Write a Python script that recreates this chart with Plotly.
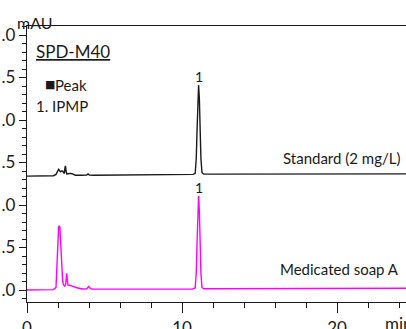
import plotly.graph_objects as go

# ---- data ----
std_time = [0.0, 1.0, 1.70, 1.87, 1.95, 2.04, 2.12, 2.17, 2.24, 2.30, 2.36, 2.41, 2.45, 2.48,
            2.52, 2.57, 2.65, 2.73, 2.82, 2.90, 3.00, 3.12, 3.50, 3.85, 3.94, 4.03, 4.30,
            6.0, 8.0, 10.0, 10.70, 10.85, 10.92, 10.97, 11.02, 11.07, 11.12, 11.17, 11.22,
            11.29, 11.40, 12.0, 14.0, 16.0, 18.0, 20.0, 22.0, 24.5]
std_abs = [1.340, 1.342, 1.345, 1.36, 1.40, 1.42, 1.40, 1.39, 1.40, 1.40, 1.38, 1.37, 1.44, 1.46,
           1.40, 1.365, 1.368, 1.372, 1.372, 1.368, 1.355, 1.350, 1.350, 1.352, 1.365, 1.352, 1.350,
           1.352, 1.355, 1.358, 1.360, 1.37, 1.55, 1.88, 2.25, 2.41, 2.25, 1.88, 1.55,
           1.38, 1.365, 1.363, 1.363, 1.364, 1.365, 1.365, 1.366, 1.366]

soap_time = [0.0, 1.0, 1.70, 1.87, 1.94, 2.00, 2.04, 2.08, 2.12, 2.17, 2.23, 2.30, 2.36, 2.43,
             2.50, 2.56, 2.60, 2.64, 2.72, 2.90, 3.05, 3.22, 3.55, 3.85, 3.98, 4.10, 4.19,
             5.05, 7.0, 9.0, 10.0, 10.70, 10.85, 10.92, 10.97, 11.02, 11.07, 11.12, 11.17,
             11.22, 11.29, 11.40, 12.0, 14.0, 16.0, 18.0, 20.0, 22.0, 24.5]
soap_abs = [0.000, 0.002, 0.004, 0.03, 0.35, 0.65, 0.74, 0.757, 0.74, 0.57, 0.30, 0.10, 0.06, 0.047,
            0.07, 0.196, 0.12, 0.059, 0.058, 0.050, 0.040, 0.027, 0.012, 0.015, 0.040, 0.015, 0.010,
            0.010, 0.010, 0.011, 0.012, 0.012, 0.025, 0.20, 0.55, 0.93, 1.106, 0.93, 0.55,
            0.20, 0.03, 0.015, 0.015, 0.016, 0.017, 0.018, 0.019, 0.020, 0.020]

y_tick_vals = [0.0, 0.5, 1.0, 1.5, 2.0, 2.5, 3.0]
y_tick_text = [".0", ".5", ".0", ".5", ".0", ".5", ".0"]
x_tick_vals = [0, 10, 20]
x_tick_text = ["0", "10", "20"]

peak_time = [11.07, 11.07]
peak_height = [2.41, 1.106]
peak_label = ["1", "1"]

# ---- layout geometry (pixels) ----
W, H = 406, 329
L, R, T, B = 27, 0, 26, 27
PW, PH = W - L - R, H - T - B


def px(x):
    return (x - L) / PW


def py(y):
    return (H - B - y) / PH


FONT = "Lato"
BLACK = "#1a1a1a"
MAGENTA = "#ff00ff"

fig = go.Figure()
fig.add_trace(go.Scatter(x=std_time, y=std_abs, mode="lines",
                         line=dict(color=BLACK, width=1.4), hoverinfo="skip"))
fig.add_trace(go.Scatter(x=soap_time, y=soap_abs, mode="lines",
                         line=dict(color=MAGENTA, width=1.4), hoverinfo="skip"))

annotations = []
for t, h, lab in zip(peak_time, peak_height, peak_label):
    annotations.append(dict(x=t, y=h, xref="x", yref="y", text=lab, showarrow=False,
                            xanchor="center", yanchor="bottom", yshift=-2,
                            font=dict(family=FONT, size=14, color=BLACK)))


def txt(text, x, y, xanchor="left", size=13, family=FONT):
    annotations.append(dict(x=px(x), y=py(y), xref="paper", yref="paper", text=text,
                            showarrow=False, xanchor=xanchor, yanchor="middle",
                            borderpad=0, font=dict(family=family, size=size, color=BLACK)))


txt("mAU", 16, 23, size=16)
txt("<u>SPD-M40</u>", 35, 52, size=17)
txt("■", 44, 84, size=11, family="DejaVu Sans")
txt("Peak", 54, 85, size=15)
txt("1. IPMP", 35, 106, size=15)
txt("Standard (2 mg/L)", 401, 158, xanchor="right", size=15)
txt("Medicated soap A", 400, 269, xanchor="right", size=15)
txt("min", 384, 323, size=17)

fig.update_layout(
    width=W, height=H,
    margin=dict(l=L, r=R, t=T, b=B, pad=0, autoexpand=False),
    paper_bgcolor="white", plot_bgcolor="white",
    showlegend=False,
    annotations=annotations,
    xaxis=dict(range=[0, PW / 15.5], showgrid=False, zeroline=False, automargin=False,
               showline=True, linecolor=BLACK, linewidth=1.3, mirror=True,
               ticks="outside", ticklen=10, tickwidth=1.2, tickcolor=BLACK,
               tickvals=x_tick_vals, ticktext=x_tick_text,
               tickfont=dict(family=FONT, size=17, color=BLACK),
               minor=dict(dtick=2, ticks="outside", ticklen=5, tickwidth=1.1,
                          tickcolor=BLACK, showgrid=False)),
    yaxis=dict(range=[-(H - B - 290) / 85, (290 - T) / 85], showgrid=False, zeroline=False,
               automargin=False,
               showline=True, linecolor=BLACK, linewidth=1.3,
               ticks="outside", ticklen=7, tickwidth=1.2, tickcolor=BLACK,
               tickvals=y_tick_vals, ticktext=y_tick_text,
               tickfont=dict(family=FONT, size=17, color=BLACK),
               minor=dict(dtick=0.1, ticks="outside", ticklen=4, tickwidth=1.1,
                          tickcolor=BLACK, showgrid=False)),
)

fig.write_html("out.html",
               config={"displayModeBar": False},
               post_script="document.body.style.margin='0';"
                           "document.body.style.overflow='hidden';")
